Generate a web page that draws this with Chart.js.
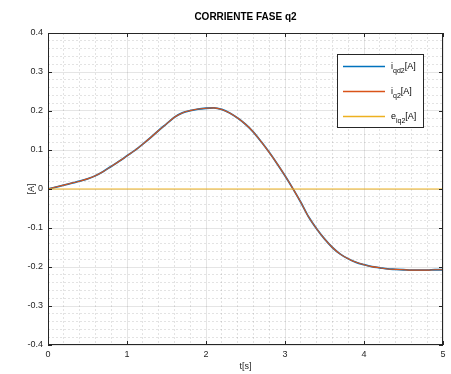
<!DOCTYPE html>
<html>
<head>
<meta charset="utf-8">
<script src="https://cdn.jsdelivr.net/npm/chart.js@4"></script>
<style>
html, body { margin: 0; padding: 0; background: #fff; }
</style>
</head>
<body>
<canvas id="grafica" width="451" height="374"></canvas>
<script>
const FUENTE = '"Liberation Sans", Arial, Helvetica, sans-serif';

// tiempo [s]
const tiempo = [0, 0.1, 0.2, 0.3, 0.4, 0.5, 0.6, 0.7, 0.8, 0.9,
  1.0, 1.1, 1.2, 1.3, 1.4, 1.5, 1.6, 1.7, 1.8, 1.9,
  2.0, 2.1, 2.2, 2.3, 2.4, 2.5, 2.6, 2.7, 2.8, 2.9,
  3.0, 3.1, 3.2, 3.3, 3.4, 3.5, 3.6, 3.7, 3.8, 3.9,
  4.0, 4.1, 4.2, 4.3, 4.4, 4.5, 4.6, 4.7, 4.8, 4.9, 5.0];

// corriente deseada iqd2 [A]
const iqd2 = [0, 0.005, 0.010, 0.015, 0.020, 0.026, 0.034, 0.045, 0.058, 0.071,
  0.085, 0.099, 0.115, 0.132, 0.150, 0.167, 0.184, 0.195, 0.201, 0.205,
  0.207, 0.208, 0.204, 0.195, 0.182, 0.166, 0.146, 0.121, 0.094, 0.065,
  0.034, 0.001, -0.034, -0.072, -0.102, -0.128, -0.150, -0.167, -0.179, -0.188,
  -0.194, -0.199, -0.202, -0.205, -0.206, -0.207, -0.208, -0.208, -0.208, -0.207, -0.207];

// corriente medida iq2 [A]
const iq2 = [0, 0.005, 0.010, 0.015, 0.020, 0.026, 0.034, 0.045, 0.058, 0.071,
  0.085, 0.099, 0.115, 0.132, 0.150, 0.167, 0.184, 0.195, 0.201, 0.205,
  0.207, 0.208, 0.204, 0.195, 0.182, 0.166, 0.146, 0.121, 0.094, 0.065,
  0.034, 0.001, -0.034, -0.072, -0.102, -0.128, -0.150, -0.167, -0.179, -0.188,
  -0.194, -0.199, -0.202, -0.205, -0.206, -0.207, -0.208, -0.208, -0.208, -0.207, -0.207];

// error eiq2 [A]
const eiq2 = [0, 0, 0, 0, 0, 0, 0, 0, 0, 0,
  0, 0, 0, 0, 0, 0, 0, 0, 0, 0,
  0, 0, 0, 0, 0, 0, 0, 0, 0, 0,
  0, 0, 0, 0, 0, 0, 0, 0, 0, 0,
  0, 0, 0, 0, 0, 0, 0, 0, 0, 0, 0];

const nombres = ['i', 'i', 'e'];
const subindices = ['qd2', 'q2', 'iq2'];
const colores = ['#0072BD', '#D95319', '#EDB120'];

const marcasX = [0, 1, 2, 3, 4, 5];
const marcasY = [-0.4, -0.3, -0.2, -0.1, 0, 0.1, 0.2, 0.3, 0.4];

function puntos(ys) {
  return tiempo.map((t, i) => ({ x: t, y: ys[i] }));
}

function esMayor(v, paso) {
  const q = v / paso;
  return Math.abs(q - Math.round(q)) < 1e-6;
}

// marco negro y marcas hacia adentro
const marco = {
  id: 'marco',
  afterDatasetsDraw(chart) {
    const { ctx, chartArea: a, scales: { x, y } } = chart;
    ctx.save();
    ctx.strokeStyle = '#262626';
    ctx.lineWidth = 1;
    ctx.beginPath();
    marcasX.forEach(v => {
      const px = Math.round(x.getPixelForValue(v)) + 0.5;
      ctx.moveTo(px, a.bottom); ctx.lineTo(px, a.bottom - 4);
      ctx.moveTo(px, a.top); ctx.lineTo(px, a.top + 4);
    });
    marcasY.forEach(v => {
      const py = Math.round(y.getPixelForValue(v)) + 0.5;
      ctx.moveTo(a.left, py); ctx.lineTo(a.left + 4, py);
      ctx.moveTo(a.right, py); ctx.lineTo(a.right - 4, py);
    });
    ctx.stroke();
    ctx.strokeRect(Math.round(a.left) + 0.5, Math.round(a.top) + 0.5,
      Math.round(a.right - a.left) - 1, Math.round(a.bottom - a.top) - 1);
    ctx.restore();
  }
};

// leyenda con subindices
const leyenda = {
  id: 'leyenda',
  afterDraw(chart) {
    const ctx = chart.ctx;
    const x0 = 337, y0 = 54, w = 86, h = 73;
    ctx.save();
    ctx.fillStyle = '#fff';
    ctx.fillRect(x0, y0, w, h);
    ctx.strokeStyle = '#262626';
    ctx.lineWidth = 1;
    ctx.strokeRect(x0 + 0.5, y0 + 0.5, w, h);
    nombres.forEach((n, i) => {
      const yy = y0 + 12.5 + i * 25;
      ctx.strokeStyle = colores[i];
      ctx.lineWidth = 1.5;
      ctx.beginPath();
      ctx.moveTo(x0 + 6, yy); ctx.lineTo(x0 + 48, yy);
      ctx.stroke();
      let tx = x0 + 54;
      ctx.fillStyle = '#000';
      ctx.textBaseline = 'alphabetic';
      ctx.font = '9px ' + FUENTE;
      ctx.fillText(n, tx, yy + 2);
      tx += ctx.measureText(n).width;
      ctx.font = '7px ' + FUENTE;
      ctx.fillText(subindices[i], tx, yy + 6);
      tx += ctx.measureText(subindices[i]).width;
      ctx.font = '9px ' + FUENTE;
      ctx.fillText('[A]', tx, yy + 2);
    });
    ctx.restore();
  }
};

// orden de dibujo: iqd2 abajo, luego iq2, eiq2 encima
const series = [iqd2, iq2, eiq2];
const datasets = series.map((s, i) => ({
  label: nombres[i] + subindices[i] + '[A]',
  data: puntos(s),
  borderColor: colores[i],
  borderWidth: i === 0 ? 1.8 : 1.1,
  order: 2 - i,
  pointRadius: 0,
  cubicInterpolationMode: 'monotone',
  fill: false
}));

const grid = paso => ({
  drawTicks: false,
  lineWidth: 1,
  color: ctx => esMayor(ctx.tick.value, paso) ? 'rgba(0,0,0,0.10)' : 'rgba(0,0,0,0.11)'
});

new Chart('grafica', {
  type: 'line',
  data: { datasets },
  options: {
    responsive: false,
    animation: false,
    layout: { padding: { left: 0, right: 8, top: 0, bottom: 0 } },
    plugins: {
      legend: { display: false },
      tooltip: { enabled: false },
      title: {
        display: true,
        text: 'CORRIENTE FASE q2',
        fullSize: false,
        color: '#000',
        font: { family: FUENTE, size: 10, weight: 'bold', lineHeight: 1.2 },
        padding: { top: 11, bottom: 10 }
      }
    },
    scales: {
      x: {
        type: 'linear',
        min: 0, max: 5,
        ticks: {
          stepSize: 0.2,
          autoSkip: false,
          maxRotation: 0,
          padding: 4,
          color: '#262626',
          font: { family: FUENTE, size: 9 },
          callback: v => esMayor(v, 1) ? String(Math.round(v)) : ''
        },
        grid: grid(1),
        border: { display: false, dash: ctx => esMayor(ctx.tick.value, 1) ? [] : [2, 2] },
        title: {
          display: true, text: 't[s]', color: '#262626',
          font: { family: FUENTE, size: 9, lineHeight: 1.2 },
          padding: { top: 0, bottom: 2 }
        },
        afterFit: s => { s.height = 29; }
      },
      y: {
        min: -0.4, max: 0.4,
        ticks: {
          stepSize: 0.02,
          autoSkip: false,
          padding: 5,
          color: '#262626',
          font: { family: FUENTE, size: 9 },
          callback: v => esMayor(v, 0.1) ? String(Math.round(v * 10) / 10) : ''
        },
        grid: grid(0.1),
        border: { display: false, dash: ctx => esMayor(ctx.tick.value, 0.1) ? [] : [2, 2] },
        title: {
          display: true, text: '[A]', color: '#262626',
          font: { family: FUENTE, size: 9, lineHeight: 1.2 },
          padding: { top: 26, bottom: 0 }
        },
        afterFit: s => { s.width = 48; }
      }
    }
  },
  plugins: [marco, leyenda]
});
</script>
</body>
</html>
